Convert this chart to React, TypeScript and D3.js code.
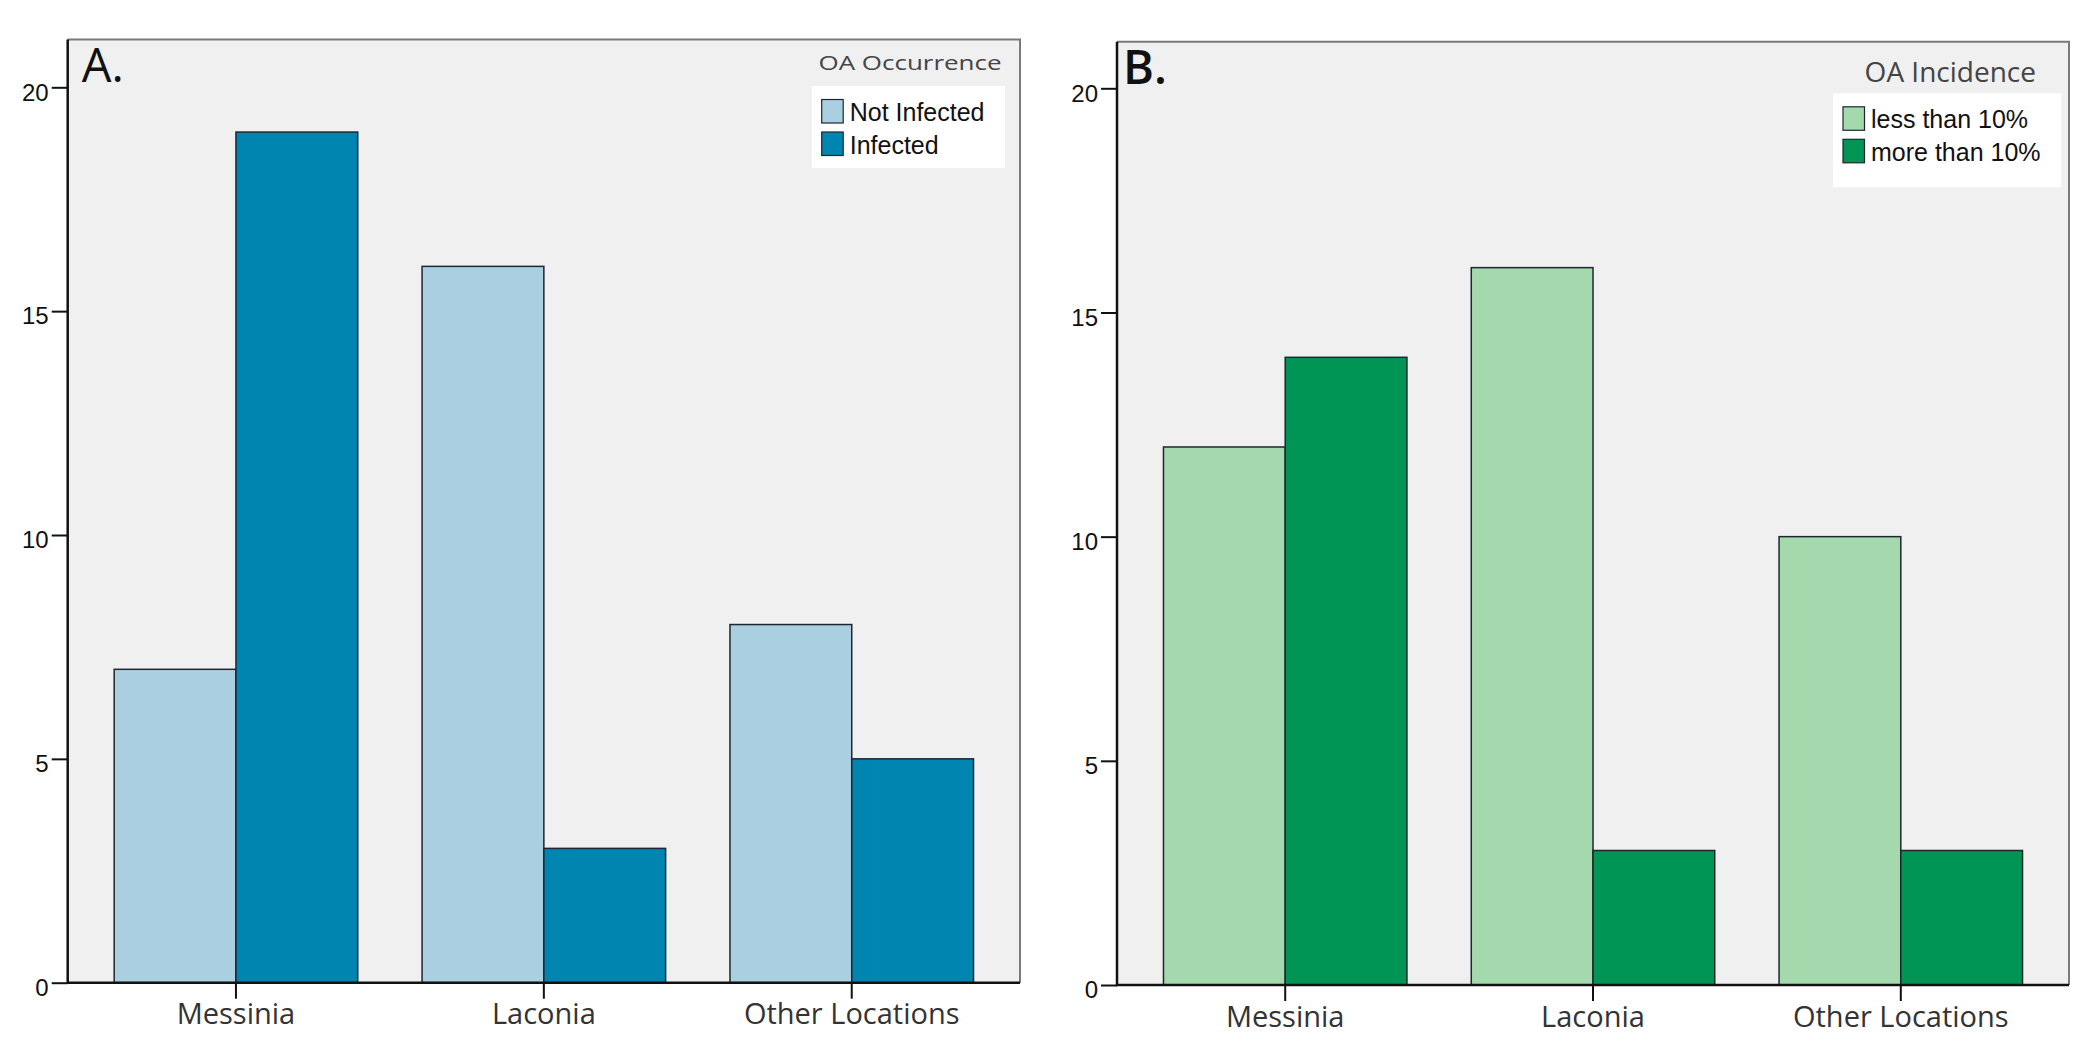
import React, { FC, useEffect, useRef } from "react"
import { axisBottom, axisLeft, scaleBand, scaleLinear, select } from "d3"

// data
const locations = ["Messinia", "Laconia", "Other Locations"]
const yTicks = [0, 5, 10, 15, 20]

const occurrenceSeries = ["Not Infected", "Infected"]
const occurrenceNotInfected = [7, 16, 8]
const occurrenceInfected = [19, 3, 5]

const incidenceSeries = ["less than 10%", "more than 10%"]
const incidenceLess = [12, 16, 10]
const incidenceMore = [14, 3, 3]

type Panel = {
  letter: string
  letterX: number
  letterWeight: number
  title: string
  titleSize: number
  titleLength?: number
  titleBaseline: number
  titleRight: number
  series: string[]
  values: number[][]
  colors: string[]
  left: number
  right: number
  top: number
  y0: number
  y20: number
  legend: { x: number; y: number; w: number; h: number }
}

const panels: Panel[] = [
  {
    letter: "A.",
    letterX: 14,
    letterWeight: 400,
    title: "OA Occurrence",
    titleSize: 20,
    titleLength: 183,
    titleBaseline: 69.5,
    titleRight: 1001.5,
    series: occurrenceSeries,
    values: [occurrenceNotInfected, occurrenceInfected],
    colors: ["#aacfe0", "#0084b0"],
    left: 67.7,
    right: 1020,
    top: 39.5,
    y0: 982.7,
    y20: 87.3,
    legend: { x: 811.7, y: 86, w: 193.3, h: 82 },
  },
  {
    letter: "B.",
    letterX: 6,
    letterWeight: 600,
    title: "OA Incidence",
    titleSize: 28,
    titleBaseline: 81.7,
    titleRight: 2036,
    series: incidenceSeries,
    values: [incidenceLess, incidenceMore],
    colors: ["#a3d9ad", "#009455"],
    left: 1117,
    right: 2069,
    top: 41.7,
    y0: 985,
    y20: 88.3,
    legend: { x: 1833, y: 93.3, w: 228.3, h: 94 },
  },
]

const drawPanel = (svg: any, p: Panel) => {
  const y = scaleLinear().domain([0, 20]).range([p.y0, p.y20])
  const x = scaleBand<string>()
    .domain(locations)
    .range([p.left, p.right])
    .paddingInner(0.209)
    .paddingOuter(0.151)
  const xInner = scaleBand<string>()
    .domain(p.series)
    .range([0, x.bandwidth()])

  const g = svg.append("g")

  // plot background
  g.append("rect")
    .attr("x", p.left)
    .attr("y", p.top)
    .attr("width", p.right - p.left)
    .attr("height", p.y0 - p.top)
    .attr("fill", "#f0f0f0")

  // top + right frame
  g.append("path")
    .attr("d", `M${p.left},${p.top}H${p.right}V${p.y0}`)
    .attr("fill", "none")
    .attr("stroke", "#7a7a7a")
    .attr("stroke-width", 2)

  // bars
  p.series.forEach((s, si) => {
    g.append("g")
      .selectAll("rect")
      .data(p.values[si])
      .join("rect")
      .attr("x", (_: number, i: number) => (x(locations[i]) ?? 0) + (xInner(s) ?? 0))
      .attr("y", (d: number) => y(d))
      .attr("width", xInner.bandwidth())
      .attr("height", (d: number) => p.y0 - y(d))
      .attr("fill", p.colors[si])
      .attr("stroke", "#1e2630")
      .attr("stroke-width", 1.5)
  })

  // y axis
  const yAxis = g
    .append("g")
    .attr("transform", `translate(${p.left},0)`)
    .call(axisLeft(y).tickValues(yTicks).tickSize(16).tickPadding(3))
  yAxis.select(".domain").remove()
  yAxis
    .selectAll("text")
    .attr("dy", "0.53em")
    .attr("fill", "#111")
    .style("font-family", "'Liberation Sans', Arial, sans-serif")
    .style("font-size", "24px")
  yAxis.selectAll("line").attr("stroke", "#111").attr("stroke-width", 2)

  // x axis
  const xAxis = g
    .append("g")
    .attr("transform", `translate(0,${p.y0})`)
    .call(axisBottom(x).tickSize(16).tickPadding(5))
  xAxis.select(".domain").remove()
  xAxis
    .selectAll("text")
    .attr("fill", "#333")
    .style("font-family", "'Open Sans', sans-serif")
    .style("font-size", "29px")
  xAxis.selectAll("line").attr("stroke", "#111").attr("stroke-width", 2)

  // left + bottom axis lines
  g.append("path")
    .attr("d", `M${p.left},${p.top}V${p.y0}H${p.right}`)
    .attr("fill", "none")
    .attr("stroke", "#111")
    .attr("stroke-width", 2.5)

  // panel letter
  g.append("text")
    .attr("x", p.left + p.letterX)
    .attr("y", p.top + 42.5)
    .attr("fill", "#111")
    .style("font-family", "'Open Sans', sans-serif")
    .style("font-size", "47px")
    .style("font-weight", p.letterWeight)
    .text(p.letter)

  // legend title
  const title = g
    .append("text")
    .attr("x", p.titleRight)
    .attr("y", p.titleBaseline)
    .attr("text-anchor", "end")
    .attr("fill", "#444")
    .style("font-family", "'Open Sans', sans-serif")
    .style("font-size", `${p.titleSize}px`)
    .text(p.title)
  if (p.titleLength) {
    title.attr("textLength", p.titleLength).attr("lengthAdjust", "spacingAndGlyphs")
  }

  // legend box
  const L = p.legend
  g.append("rect")
    .attr("x", L.x)
    .attr("y", L.y)
    .attr("width", L.w)
    .attr("height", L.h)
    .attr("fill", "#ffffff")

  const items = g
    .append("g")
    .selectAll("g")
    .data(p.series)
    .join("g")
    .attr("transform", (_: string, i: number) => `translate(${L.x + 10},${L.y + 13.5 + i * 32.5})`)
  items
    .append("rect")
    .attr("width", 21.5)
    .attr("height", 23.5)
    .attr("fill", (_: string, i: number) => p.colors[i])
    .attr("stroke", "#1e2630")
    .attr("stroke-width", 1.2)
  items
    .append("text")
    .attr("x", 28)
    .attr("y", 21.5)
    .attr("fill", "#111")
    .style("font-family", "'Liberation Sans', Arial, sans-serif")
    .style("font-size", "25px")
    .text((d: string) => d)
}

const App: FC = () => {
  const svgRef = useRef<SVGSVGElement>(null)

  useEffect(() => {
    const svg = select(svgRef.current)
    svg.selectAll("*").remove()
    panels.forEach((p) => drawPanel(svg, p))
  }, [])

  return (
    <svg
      ref={svgRef}
      width={2078}
      height={1045}
      style={{ position: "absolute", left: 0, top: 0, background: "#fff" }}
    />
  )
}

export default App
